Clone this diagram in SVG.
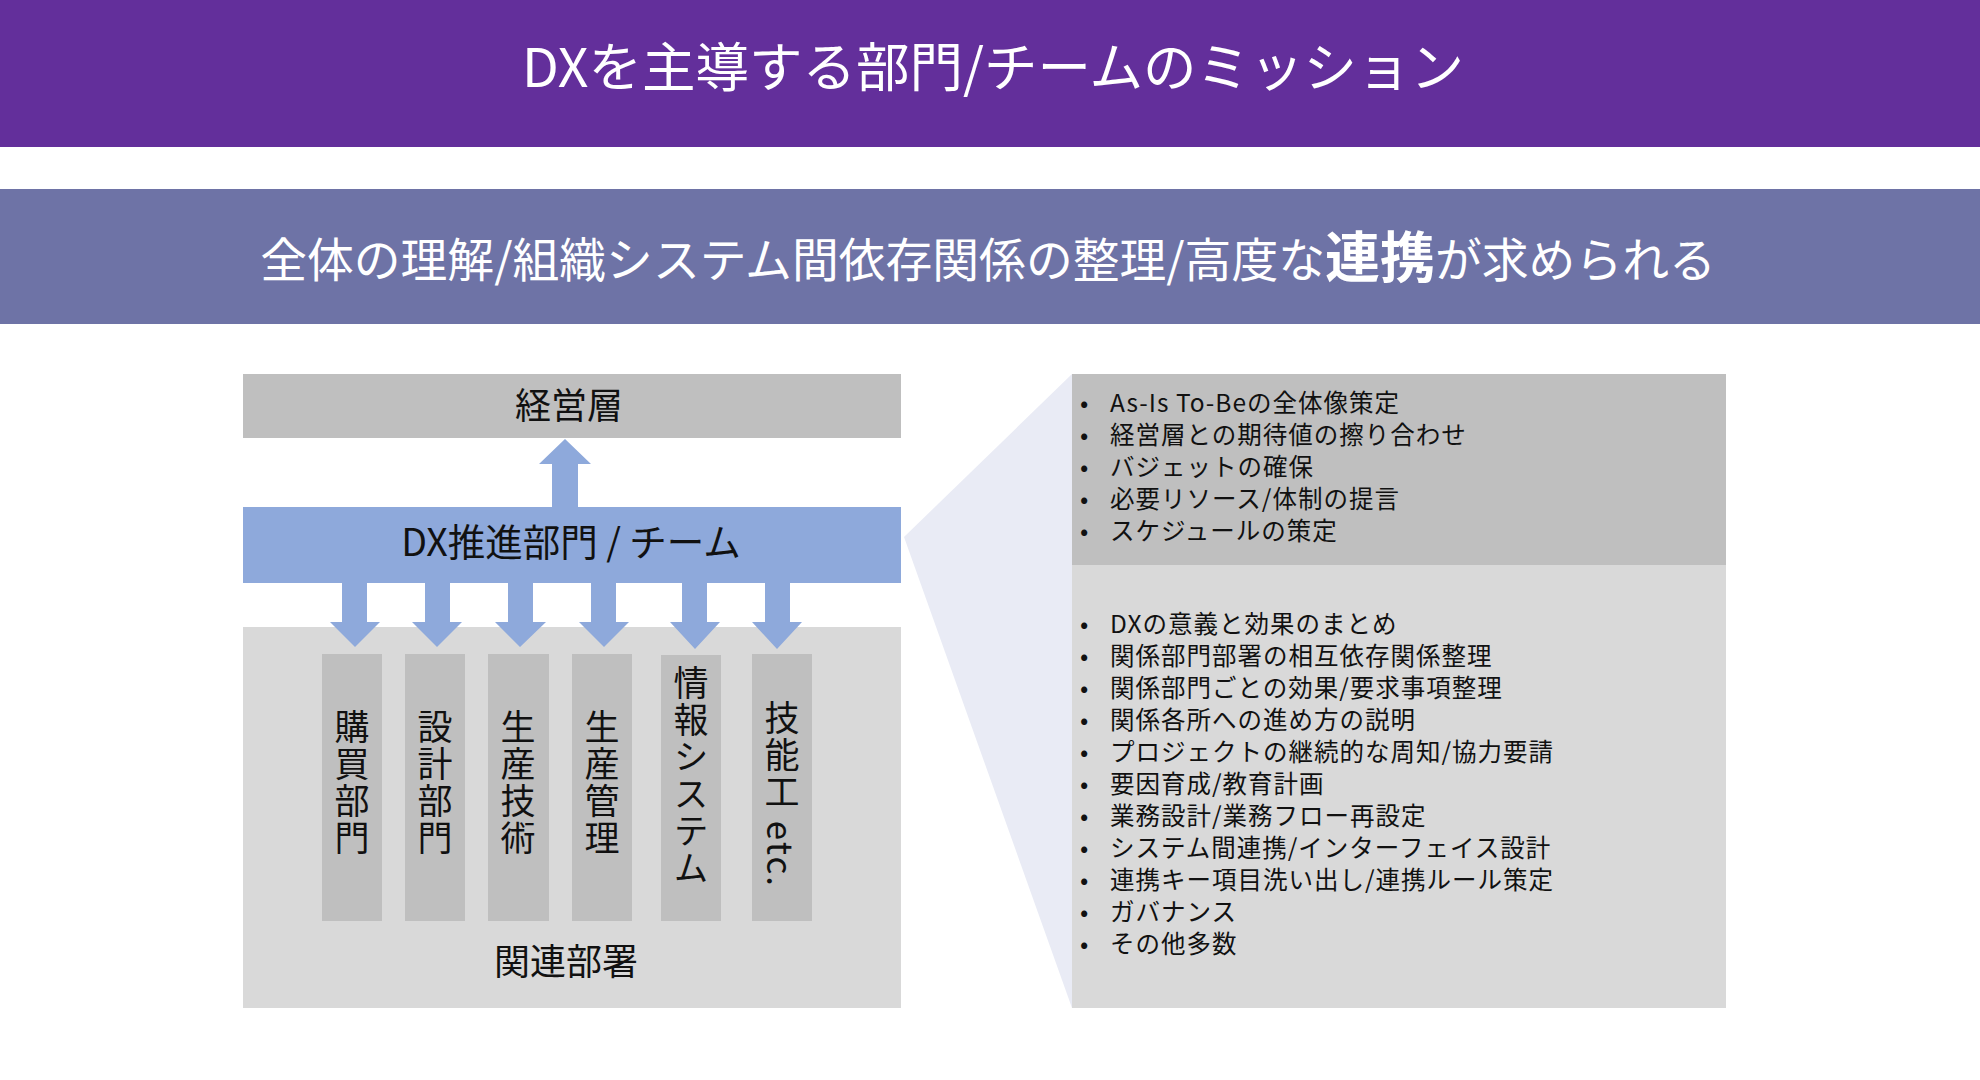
<svg xmlns="http://www.w3.org/2000/svg" width="1980" height="1080" viewBox="0 0 1980 1080">
<style>
text{font-family:"Noto Sans CJK JP","Noto Sans",sans-serif;}
.w{fill:#ffffff;}
.k{fill:#111111;}
.lbl{font-size:36px;}
.col{font-size:35px;fill:#111111;writing-mode:vertical-rl;letter-spacing:2px;}
.li{font-size:24.5px;letter-spacing:1px;fill:#111111;}
.blue{fill:#8EA9DB;}
.dg{fill:#BFBFBF;}
.lg{fill:#D9D9D9;}
</style>
<rect width="1980" height="1080" fill="#ffffff"/>
<g id="title">
<rect x="0" y="0" width="1980" height="147" fill="#632F9B"/>
<text class="w" x="993" y="87" font-size="53.5" text-anchor="middle">DXを主導する部門/チームのミッション</text>
</g>
<g id="subtitle">
<rect x="0" y="189" width="1980" height="135" fill="#6E73A6"/>
<text class="w" x="988" y="277" font-size="46.8" text-anchor="middle">全体の理解/組織システム間依存関係の整理/高度な<tspan font-size="55" font-weight="bold">連携</tspan>が求められる</text>
</g>
<g id="wedge">
<polygon points="1072,374 904,537 1072,1008" fill="#E9EBF5"/>
</g>
<g id="management">
<rect class="dg" x="243" y="374" width="658" height="64"/>
<text class="k lbl" x="569" y="419" text-anchor="middle">経営層</text>
</g>
<g id="related">
<rect class="lg" x="243" y="627" width="658" height="381"/>
<text class="k lbl" x="566" y="975" text-anchor="middle">関連部署</text>
</g>
<g id="dept-purchasing">
<rect class="dg" x="322" y="654" width="60" height="267"/>
<text class="col" x="352" y="783" text-anchor="middle">購買部門</text>
</g>
<g id="dept-design">
<rect class="dg" x="405" y="654" width="60" height="267"/>
<text class="col" x="435" y="783" text-anchor="middle">設計部門</text>
</g>
<g id="dept-prodtech">
<rect class="dg" x="488" y="654" width="61" height="267"/>
<text class="col" x="518" y="783" text-anchor="middle">生産技術</text>
</g>
<g id="dept-prodmgmt">
<rect class="dg" x="572" y="654" width="60" height="267"/>
<text class="col" x="602" y="783" text-anchor="middle">生産管理</text>
</g>
<g id="dept-is">
<rect class="dg" x="661" y="655" width="60" height="266"/>
<text class="col" x="691" y="776" text-anchor="middle">情報システム</text>
</g>
<g id="dept-skill">
<rect class="dg" x="752" y="654" width="60" height="267"/>
<text class="col" x="782" y="794" text-anchor="middle">技能工 etc.</text>
</g>
<g id="connectors">
<polygon class="blue" points="552,507 552,464 539,464 565,439 591,464 578,464 578,507"/>
<polygon class="blue" points="342,583 367,583 367,622 380,622 355,647 330,622 342,622"/>
<polygon class="blue" points="425,583 450,583 450,622 462,622 437,647 412,622 425,622"/>
<polygon class="blue" points="508,583 533,583 533,622 546,622 520,647 495,622 508,622"/>
<polygon class="blue" points="591,583 616,583 616,622 629,622 604,647 579,622 591,622"/>
<polygon class="blue" points="682,583 707,583 707,622 720,622 695,649 670,622 682,622"/>
<polygon class="blue" points="765,583 790,583 790,622 802,622 777,649 752,622 765,622"/>
</g>
<g id="dx-team">
<rect class="blue" x="243" y="507" width="658" height="76"/>
<text class="k" x="571" y="556" font-size="37.5" text-anchor="middle">DX推進部門 / チーム</text>
</g>
<g id="mission-top">
<rect class="dg" x="1072" y="374" width="654" height="191"/>
<g class="li">
<text x="1080" y="412">•</text><text x="1110" y="412">As-Is To-Beの全体像策定</text>
<text x="1080" y="444">•</text><text x="1110" y="444">経営層との期待値の擦り合わせ</text>
<text x="1080" y="476">•</text><text x="1110" y="476">バジェットの確保</text>
<text x="1080" y="508">•</text><text x="1110" y="508">必要リソース/体制の提言</text>
<text x="1080" y="540">•</text><text x="1110" y="540">スケジュールの策定</text>
</g>
</g>
<g id="mission-bottom">
<rect class="lg" x="1072" y="565" width="654" height="443"/>
<g class="li">
<text x="1080" y="633">•</text><text x="1110" y="633">DXの意義と効果のまとめ</text>
<text x="1080" y="665">•</text><text x="1110" y="665">関係部門部署の相互依存関係整理</text>
<text x="1080" y="697">•</text><text x="1110" y="697">関係部門ごとの効果/要求事項整理</text>
<text x="1080" y="729">•</text><text x="1110" y="729">関係各所への進め方の説明</text>
<text x="1080" y="761">•</text><text x="1110" y="761">プロジェクトの継続的な周知/協力要請</text>
<text x="1080" y="793">•</text><text x="1110" y="793">要因育成/教育計画</text>
<text x="1080" y="825">•</text><text x="1110" y="825">業務設計/業務フロー再設定</text>
<text x="1080" y="857">•</text><text x="1110" y="857">システム間連携/インターフェイス設計</text>
<text x="1080" y="889">•</text><text x="1110" y="889">連携キー項目洗い出し/連携ルール策定</text>
<text x="1080" y="921">•</text><text x="1110" y="921">ガバナンス</text>
<text x="1080" y="953">•</text><text x="1110" y="953">その他多数</text>
</g>
</g>
</svg>
